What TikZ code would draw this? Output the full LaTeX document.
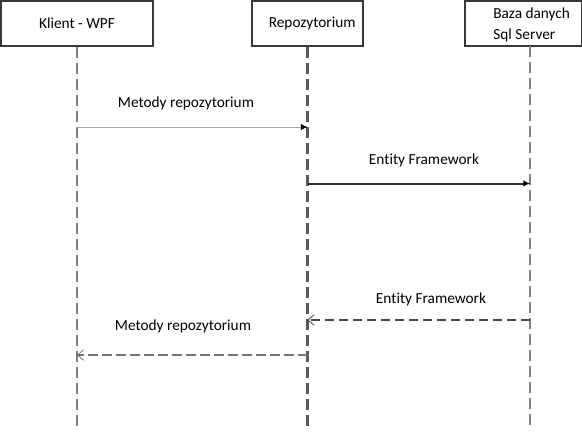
\documentclass[tikz,border=0pt]{standalone}
\usepackage{fontspec}
\setmainfont{Carlito}[Ligatures=NoCommon]
\usetikzlibrary{arrows.meta}
\tikzset{
  obiekt/.style={draw=black!78,line width=0.9pt,minimum height=33.75pt,inner sep=0pt},
  linia/.style={draw=black!50,line width=0.8pt,dash pattern=on 8.25pt off 3.75pt},
  pelna/.style={-{Latex[length=5pt,width=5pt,black]}},
  powrot/.style={-{Straight Barb[length=4.5pt,width=8pt,line width=0.6pt]},dash pattern=on 7pt off 3.5pt},
}
\begin{document}
\begin{tikzpicture}[x=0.75pt,y=-0.75pt,font=\fontsize{11.5}{15.75}\selectfont]
    \useasboundingbox (0,0) rectangle (582,446);
    % obiekty
    \node[obiekt,minimum width=114pt] (klient) at (77,23.5) {Klient - WPF\hspace{7pt}};
    \node[obiekt,minimum width=83.25pt] (repo) at (307.5,23.5) {\hspace{7pt}Repozytorium};
    \node[obiekt,minimum width=87.75pt] (baza) at (523.5,23.5) {};
    \node[align=left,anchor=west,inner sep=0pt] (bazatxt) at (493,24.5) {Baza danych\\Sql Server};
    % linie zycia
    \coordinate (k) at (klient.south);
    \coordinate (r) at (repo.south);
    \coordinate (b) at (530,46);
    \coordinate (kd) at (77,428);
    \coordinate (rd) at (307.5,428);
    \coordinate (bd) at (530,428);
    \draw[linia] (k) -- (kd);
    \draw[linia,draw=black!65,line width=1.6pt] (r) -- (rd);
    \draw[linia] (b) -- (bd);
    % komunikaty
    \coordinate (y1) at (0,127);
    \coordinate (y2) at (0,183.5);
    \coordinate (y3) at (0,320);
    \coordinate (y4) at (0,355);
    \draw[pelna,draw=black!35,line width=0.75pt] (k |- y1) -- (r |- y1);
    \draw[pelna,draw=black!82,line width=1.5pt] (r |- y2) -- (b |- y2);
    \draw[powrot,draw=black!72,line width=1.5pt] (b |- y3) -- (r |- y3);
    \draw[powrot,draw=black!55,line width=1.9pt] (r |- y4) -- (k |- y4);
    \node (metody1) at (186,103) {Metody repozytorium};
    \node (entity1) at (424,160) {Entity Framework};
    \node (entity2) at (431,299) {Entity Framework};
    \node (metody2) at (183,326) {Metody repozytorium};
\end{tikzpicture}
\end{document}
